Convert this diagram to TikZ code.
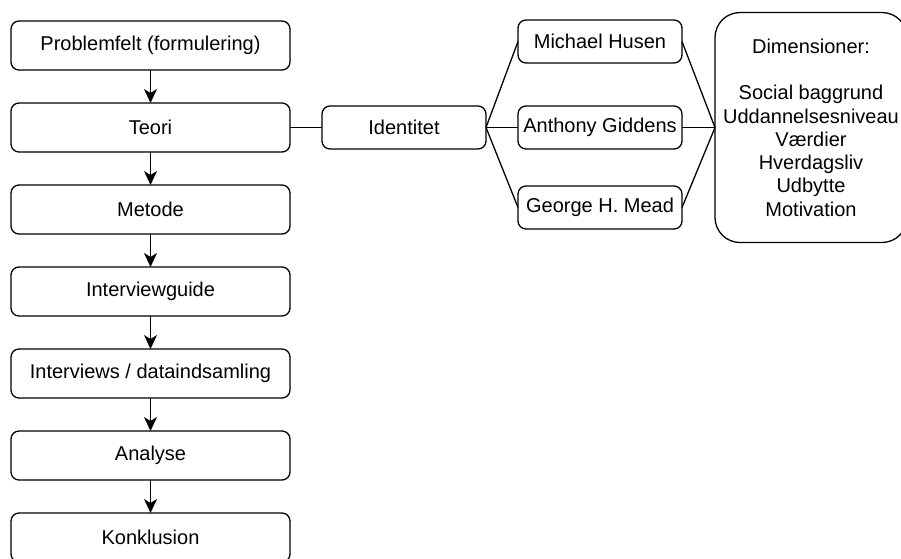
\documentclass[tikz,border=0pt]{standalone}
\usepackage{fontspec}
\setmainfont{Liberation Sans}
\usepackage{tikz}
\usetikzlibrary{arrows.meta, positioning}

\begin{document}
\begin{tikzpicture}[
    node distance=33pt,
    font=\fontsize{20}{23.3}\selectfont,
    block/.style={rectangle, draw, rounded corners=8pt, line width=1.3pt, outer sep=0pt, minimum width=279pt, minimum height=49pt, inner sep=0pt},
    small/.style={rectangle, draw, rounded corners=8pt, line width=1.3pt, outer sep=0pt, minimum width=164pt, minimum height=43pt, inner sep=0pt},
    arrow/.style={-{Stealth[length=14pt, width=13pt, inset=4pt]}, line width=1.3pt},
    link/.style={line width=1.3pt}
]
\useasboundingbox (0pt,0pt) rectangle (901pt,-558pt);

% Process steps
\node[block] (prob) at (150.5pt,-45.5pt) {Problemfelt (formulering)};
\node[block, below=of prob] (teori) {Teori};
\node[block, below=of teori] (metode) {Metode};
\node[block, below=of metode] (guide) {Interviewguide};
\node[block, below=of guide] (data) {Interviews / dataindsamling};
\node[block, below=of data] (analyse) {Analyse};
\node[block, below=of analyse] (konkl) {Konklusion};

\draw[arrow] (prob) -- (teori);
\draw[arrow] (teori) -- (metode);
\draw[arrow] (metode) -- (guide);
\draw[arrow] (guide) -- (data);
\draw[arrow] (data) -- (analyse);
\draw[arrow] (analyse) -- (konkl);

% Theory branch
\node[small, right=32pt of teori] (ident) {Identitet};
\node[small, right=32pt of ident] (giddens) {Anthony Giddens};
\node[small, above=43pt of giddens] (husen) {Michael Husen};
\node[small, below=37pt of giddens] (mead) {George H. Mead};

\node[rectangle, draw, rounded corners=25pt, line width=1.3pt, outer sep=0pt, minimum width=192pt, minimum height=230pt, align=center, right=33pt of giddens] (dim) {Dimensioner:\\[23.3pt]Social baggrund\\Uddannelsesniveau\\Værdier\\Hverdagsliv\\Udbytte\\Motivation};

\draw[link] (teori) -- (ident);
\draw[link] (ident.east) -- (husen.west);
\draw[link] (ident.east) -- (giddens.west);
\draw[link] (ident.east) -- (mead.west);
\draw[link] (husen.east) -- (dim.west);
\draw[link] (giddens.east) -- (dim.west);
\draw[link] (mead.east) -- (dim.west);

\end{tikzpicture}
\end{document}
